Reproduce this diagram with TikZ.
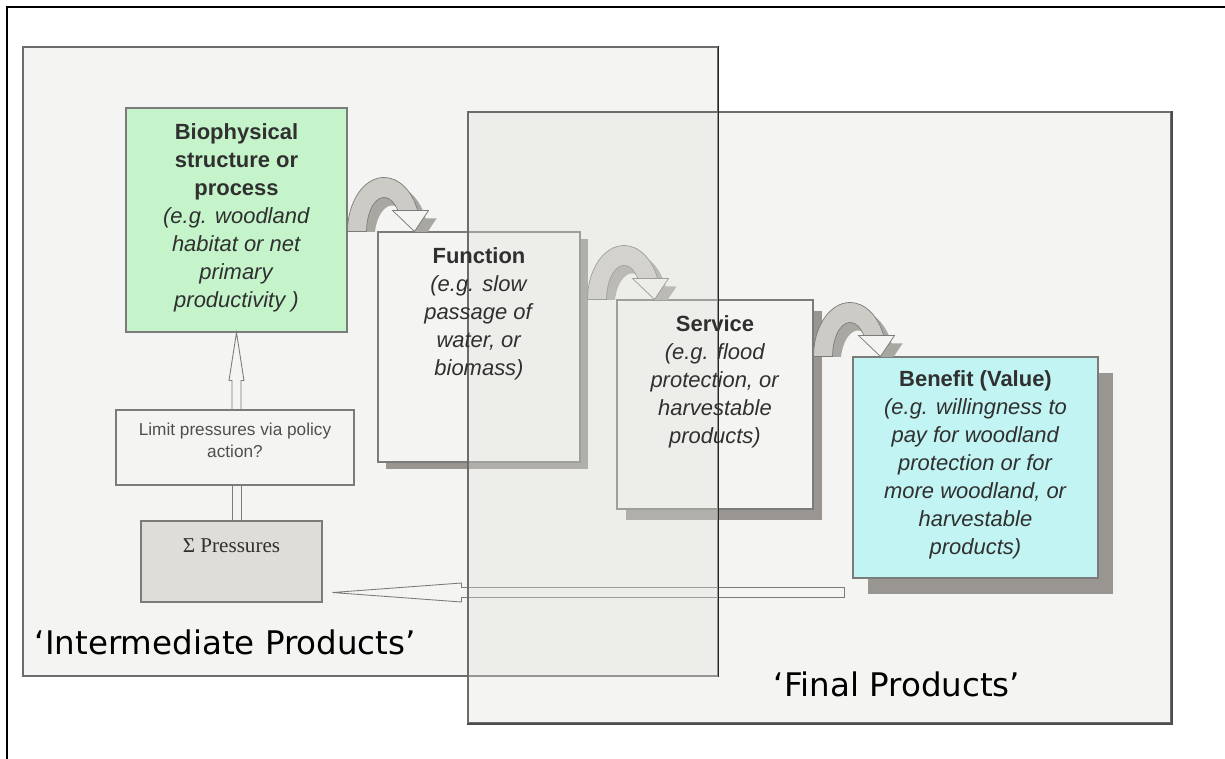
\documentclass[tikz,border=0pt]{standalone}
\usepackage{fontspec}
\setmainfont{Liberation Sans}
\newfontfamily\zonefont{DejaVu Sans}
\newfontfamily\sigmafont{Liberation Serif}
\usetikzlibrary{positioning,calc,shadows}

\definecolor{zonefill}{RGB}{224,224,218}
\definecolor{zoneline}{RGB}{108,108,108}
\definecolor{boxline}{RGB}{70,70,70}
\definecolor{biogreen}{RGB}{184,255,196}
\definecolor{bencyan}{RGB}{177,255,255}
\definecolor{pressfill}{RGB}{222,220,215}
\definecolor{shadowgray}{RGB}{116,111,107}
\definecolor{bandgray}{RGB}{195,193,188}
\definecolor{bandshadow}{RGB}{140,137,132}
\definecolor{textgray}{RGB}{48,48,48}

\tikzset{
  box/.style={draw=boxline, line width=0.6pt},
  zone/.style={draw=zoneline, line width=0.7pt, fill=zonefill, fill opacity=0.35},
  hollow/.style={draw=boxline, line width=0.5pt, fill=white},
  boxtext/.style={align=center, text=textgray, font=\fontsize{12.5}{15.9}\selectfont},
  zonelabel/.style={text=black, font=\zonefont\fontsize{18.5}{22}\selectfont},
  bendarrow/.pic={
    \begin{scope}
      \clip (-0.5,0) rectangle (10,7);
      \fill [bandshadow, shift={(0.8,-0.8)}] (0,0) arc [start angle=180, end angle=22.9, x radius=3.65, y radius=5.4]
        -- (8.1,2.1) -- (6.7,0) -- (4.5,2.1) -- (5.03,2.1)
        arc [start angle=38.1, end angle=180, x radius=1.75, y radius=3.4] -- cycle;
    \end{scope}
    \draw [boxline, line width=0.4pt, fill=bandgray] (0,0) arc [start angle=180, end angle=22.9, x radius=3.65, y radius=5.4]
      -- (5.03,2.1) arc [start angle=38.1, end angle=180, x radius=1.75, y radius=3.4] -- cycle;
    \draw [boxline, line width=0.4pt, fill=white] (4.5,2.1) -- (8.1,2.1) -- (6.7,0) -- cycle;
  }
}

\begin{document}
\begin{tikzpicture}[scale=0.2]
	\tikzstyle{every node}+=[inner sep=0pt]
	\useasboundingbox (0,0) rectangle (122.5,-75.9);
	\draw [black, line width=1.4pt] (0.7,-75.9) -- (0.7,-0.7) -- (122.5,-0.7);
	% boxes
	\node [box, fill=biogreen, minimum width=4.42cm, minimum height=4.48cm] (bio) at (23.65,-22) {};
	\node [box, fill=white, minimum width=4.04cm, minimum height=4.6cm,
		drop shadow={shadow xshift=0.16cm, shadow yshift=-0.14cm, fill=shadowgray, opacity=1}] (func) at (47.9,-34.7) {};
	\node [box, fill=white, minimum width=3.92cm, minimum height=4.18cm,
		drop shadow={shadow xshift=0.18cm, shadow yshift=-0.22cm, fill=shadowgray, opacity=1}] (serv) at (71.5,-40.45) {};
	\node [box, fill=bencyan, minimum width=4.9cm, minimum height=4.42cm,
		drop shadow={shadow xshift=0.3cm, shadow yshift=-0.32cm, fill=shadowgray, opacity=1}] (ben) at (97.55,-46.75) {};
	\node [box, fill=white, minimum width=4.76cm, minimum height=1.5cm] (limit) at (23.5,-44.75) {};
	\node [box, fill=pressfill, minimum width=3.62cm, minimum height=1.62cm] (press) at (23.15,-56.15) {};
	% bent arrows
	\pic [transform shape] at (bio.east |- func.north) {bendarrow};
	\pic [transform shape] at ($(func.east |- serv.north)+(0.7,0)$) {bendarrow};
	\pic [transform shape] at (serv.east |- ben.north) {bendarrow};
	% hollow arrows
	\coordinate (uptip) at (bio.south);
	\draw [hollow] ($(uptip |- limit.north)+(-0.45,0)$) -- ($(uptip)+(-0.45,-4.8)$) -- ($(uptip)+(-0.75,-4.8)$)
		-- (uptip) -- ($(uptip)+(0.75,-4.8)$) -- ($(uptip)+(0.45,-4.8)$) -- ($(uptip |- limit.north)+(0.45,0)$) -- cycle;
	\draw [hollow] ($(uptip |- press.north)+(-0.45,0)$) rectangle ($(uptip |- limit.south)+(0.45,0)$);
	\coordinate (backtip) at ($(press.south east)+(1,1)$);
	\coordinate (backtail) at ($(ben.south west)+(-0.8,-1.4)$);
	\draw [hollow] ($(backtail)+(0,0.5)$) -- ($(backtip)+(12.9,0.5)$) -- ($(backtip)+(12.9,0.95)$) -- (backtip)
		-- ($(backtip)+(12.9,-0.95)$) -- ($(backtip)+(12.9,-0.5)$) -- ($(backtail)+(0,-0.5)$) -- cycle;
	% the two product areas
	\node [zone, minimum width=13.9cm, minimum height=12.58cm] (inter) at (37.05,-36.15) {};
	\node [zone, minimum width=14.06cm, minimum height=12.22cm] (final) at (81.95,-41.75) {};
	\draw [black!85, line width=0.5pt] (inter.north east) -- (inter.south east);
	\draw [black!70, line width=1.2pt] (final.north east) -- (final.south east) -- (final.south west);
	% texts
	\node [boxtext, below=9.2pt of bio.north] (biotext) {\textbf{Biophysical}\\\textbf{structure or}\\\textbf{process}\\
		\textit{(e.g. woodland}\\\textit{habitat or net}\\\textit{primary}\\\textit{productivity )}};
	\node [boxtext, below=9.2pt of func.north] (functext) {\textbf{Function}\\\textit{(e.g. slow}\\\textit{passage of}\\
		\textit{water, or}\\\textit{biomass)}};
	\node [boxtext, below=9.2pt of serv.north] (servtext) {\textbf{Service}\\\textit{(e.g. flood}\\\textit{protection, or}\\
		\textit{harvestable}\\\textit{products)}};
	\node [boxtext, below=8pt of ben.north] (bentext) {\textbf{Benefit (Value)}\\\textit{(e.g. willingness to}\\
		\textit{pay for woodland}\\\textit{protection or for}\\\textit{more woodland, or}\\\textit{harvestable}\\\textit{products)}};
	\node [align=center, text=textgray!85, font=\fontsize{9.8}{12.5}\selectfont, below=7.5pt of limit.north] (limittext)
		{Limit pressures via policy\\action?};
	\node [text=textgray, font=\sigmafont\fontsize{12}{14}\selectfont, below=10.2pt of press.north] (presstext) {Σ Pressures};
	\node [zonelabel, anchor=west] (intername) at ($(inter.south west)+(1.2,3.4)$) {‘Intermediate Products’};
	\node [zonelabel] (finalname) at ($(final.south)+(7.75,3.9)$) {‘Final Products’};
\end{tikzpicture}
\end{document}
